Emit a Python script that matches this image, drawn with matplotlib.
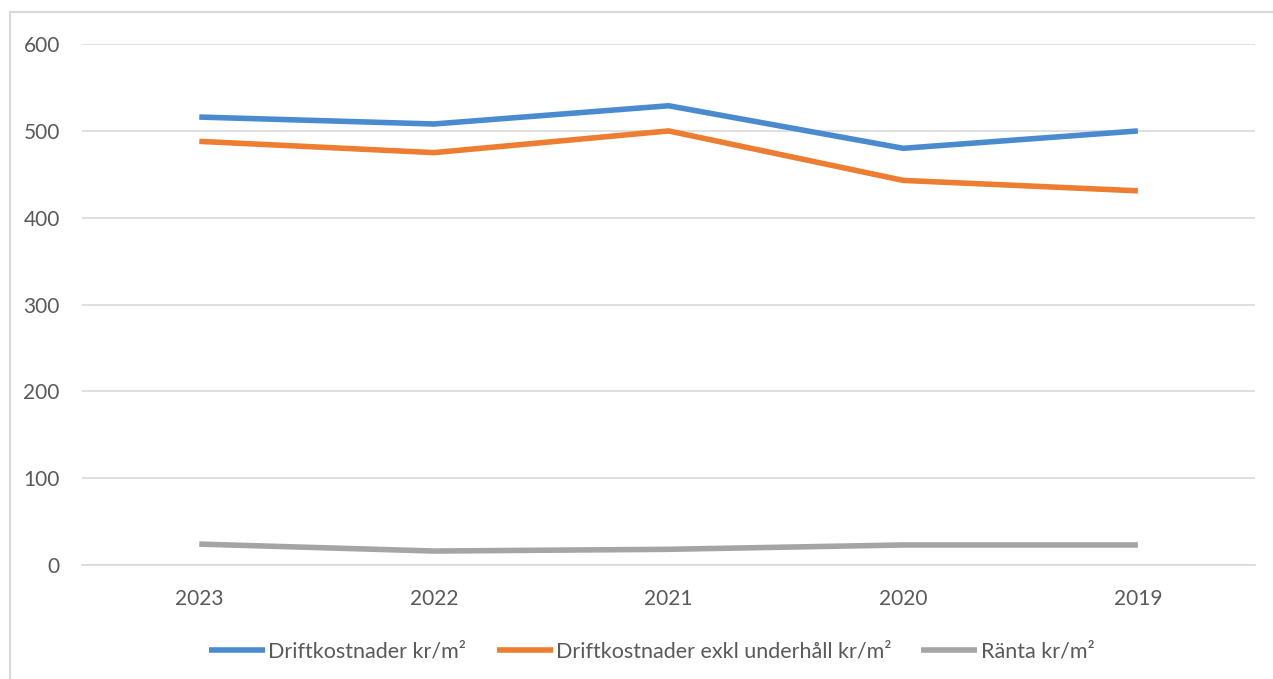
import matplotlib
matplotlib.use("Agg")
from matplotlib import pyplot as plt
from matplotlib.lines import Line2D

years = ["2023", "2022", "2021", "2020", "2019"]
drift = [516, 508, 529, 480, 500]
drift_exkl = [488, 475, 500, 443, 431]
ranta = [24, 16, 18, 23, 23]

plt.rcParams['font.family'] = ['Lato', 'DejaVu Sans']

fig = plt.figure(figsize=(12.73, 6.79), dpi=100)
ax = fig.add_axes([0.0644, 0.168, 0.9216, 0.767])

x = range(len(years))
ax.plot(x, drift, color='#4a8bd0', lw=4, label='Driftkostnader kr/m²', solid_capstyle='butt')
ax.plot(x, drift_exkl, color='#ed7d31', lw=4, label='Driftkostnader exkl underhåll kr/m²', solid_capstyle='butt')
ax.plot(x, ranta, color='#a5a5a5', lw=4, label='Ränta kr/m²', solid_capstyle='butt')

ax.set_xlim(-0.5, len(years) - 0.5)
ax.set_ylim(0, 600)
ax.set_yticks(range(0, 601, 100))
ax.set_xticks(list(x))
ax.set_xticklabels(years)
ax.grid(axis='y', color='#d9d9d9', lw=1.2)
ax.set_axisbelow(True)
for s in ['top', 'right', 'left']:
    ax.spines[s].set_visible(False)
ax.spines['bottom'].set_color('#d9d9d9')
ax.spines['bottom'].set_linewidth(1.2)
ax.tick_params(length=0, labelsize=15, colors='#595959')
ax.tick_params(axis='x', pad=17)
ax.tick_params(axis='y', pad=16)

# outer chart border
fig.add_artist(Line2D([10/1273, 10/1273], [0, 1 - 12/679], color='#d9d9d9', lw=1.5))
fig.add_artist(Line2D([10/1273, 1], [1 - 12/679, 1 - 12/679], color='#d9d9d9', lw=1.5))

leg = fig.legend(loc='center', bbox_to_anchor=(0.512, 1 - 652/679), ncol=3, frameon=False,
                 fontsize=15.5, handlelength=2.6, handletextpad=0.15, columnspacing=1.4)
for t in leg.get_texts():
    t.set_color('#595959')

fig.savefig('out.png', dpi=100)
